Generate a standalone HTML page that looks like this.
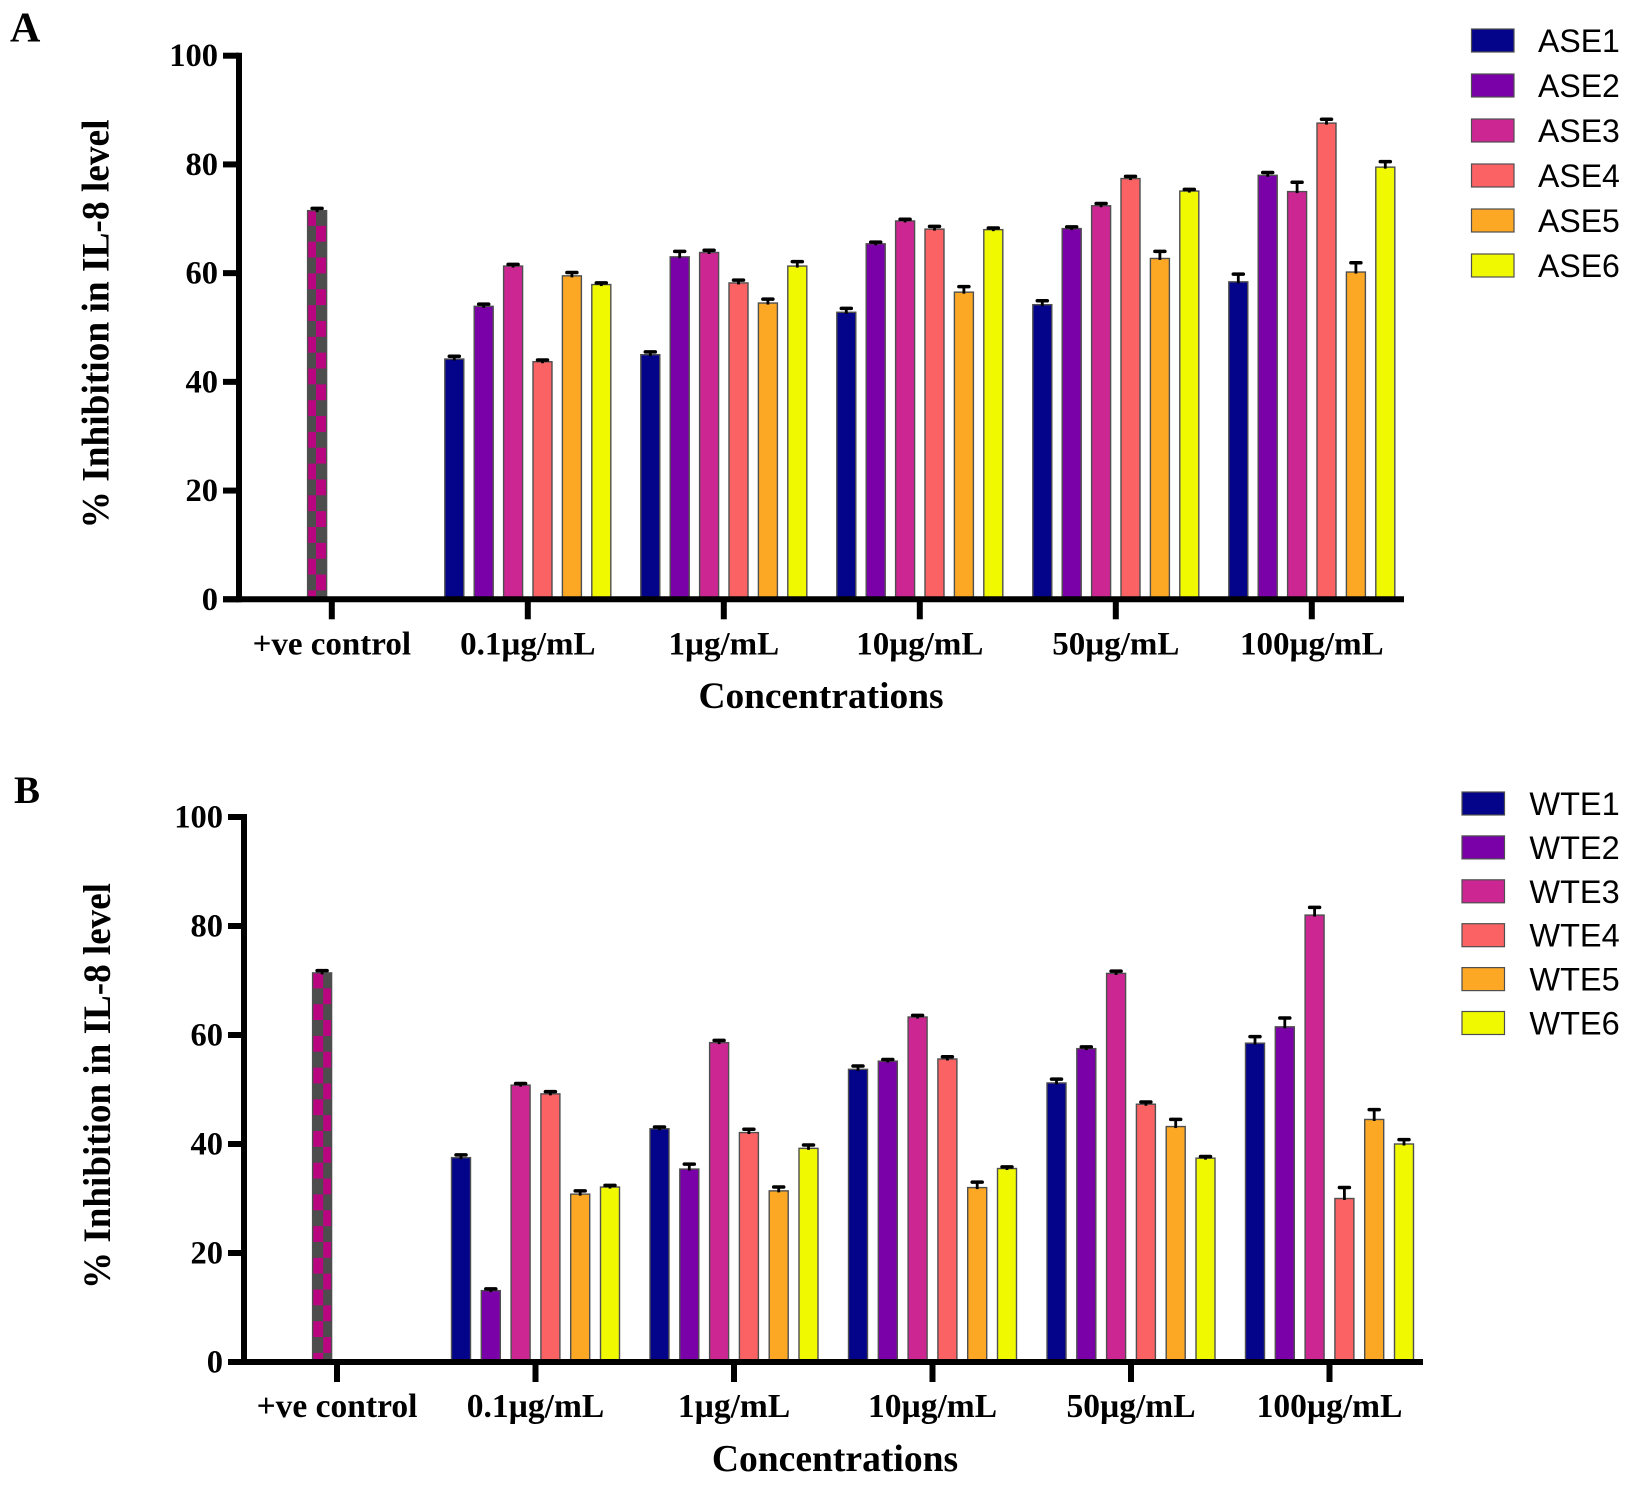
<!DOCTYPE html>
<html lang="en">
<head>
<meta charset="utf-8">
<title>% Inhibition in IL-8 level</title>
<style>
html,body{margin:0;padding:0;background:#fff;width:1631px;height:1492px;overflow:hidden}
svg{display:block}
.serif{font-family:"Liberation Serif",serif;font-weight:bold;fill:#000}
.sans{font-family:"Liberation Sans",sans-serif;fill:#000}
</style>
</head>
<body>
<svg id="chart" xmlns="http://www.w3.org/2000/svg" width="1631" height="1492" viewBox="0 0 1631 1492">
  <defs>
    <pattern id="checkA" patternUnits="userSpaceOnUse" x="307.5" y="210" width="20" height="31.7">
      <rect width="20" height="31.7" fill="#4d4d4d"/>
      <rect x="0" y="0" width="8.5" height="15.85" fill="#b9057f"/>
      <rect x="8.5" y="15.85" width="11.5" height="15.85" fill="#b9057f"/>
    </pattern>
    <pattern id="checkB" patternUnits="userSpaceOnUse" x="313" y="972.5" width="20" height="31.7">
      <rect width="20" height="31.7" fill="#4d4d4d"/>
      <rect x="0" y="0" width="10.2" height="15.85" fill="#b9057f"/>
      <rect x="10.2" y="15.85" width="9.8" height="15.85" fill="#b9057f"/>
    </pattern>
  </defs>
  <text class="serif" x="10" y="41.5" font-size="42">A</text>
  <text class="serif" x="14" y="803" font-size="39">B</text>
  <text class="serif" font-size="39" text-anchor="middle" transform="translate(108.5 324) rotate(-90)" textLength="409" lengthAdjust="spacingAndGlyphs">% Inhibition in IL-8 level</text>
  <text class="serif" font-size="39" text-anchor="middle" transform="translate(110 1086) rotate(-90)" textLength="406" lengthAdjust="spacingAndGlyphs">% Inhibition in IL-8 level</text>
  <text class="serif" font-size="37.4" text-anchor="middle" x="821" y="708">Concentrations</text>
  <text class="serif" font-size="37.6" text-anchor="middle" x="835" y="1471">Concentrations</text>
  <g id="panelA"></g>
  <g id="panelB"></g>
</svg>
<script>
// ---- data ----
const categories = ['+ve control', '0.1µg/mL', '1µg/mL', '10µg/mL', '50µg/mL', '100µg/mL'];
const yTicks = [0, 20, 40, 60, 80, 100];
const seriesColors = ['#04048a', '#7a00a8', '#cc2693', '#fb6264', '#fda824', '#f0f900'];

const aseNames = ['ASE1', 'ASE2', 'ASE3', 'ASE4', 'ASE5', 'ASE6'];
const aseControl = 71.5;
const aseControlErr = 0.3;
const ase1 = [44.2, 45.0, 52.8, 54.2, 58.4];
const ase2 = [53.9, 63.0, 65.4, 68.2, 78.0];
const ase3 = [61.3, 63.8, 69.6, 72.4, 75.0];
const ase4 = [43.7, 58.2, 68.1, 77.4, 87.6];
const ase5 = [59.5, 54.5, 56.5, 62.7, 60.2];
const ase6 = [57.9, 61.3, 68.0, 75.1, 79.5];
const ase1Err = [0.4, 0.4, 0.6, 0.6, 1.3];
const ase2Err = [0.3, 0.9, 0.2, 0.2, 0.4];
const ase3Err = [0.2, 0.3, 0.2, 0.3, 1.6];
const ase4Err = [0.2, 0.4, 0.4, 0.3, 0.6];
const ase5Err = [0.5, 0.6, 0.9, 1.2, 1.6];
const ase6Err = [0.2, 0.7, 0.2, 0.2, 0.9];

const wteNames = ['WTE1', 'WTE2', 'WTE3', 'WTE4', 'WTE5', 'WTE6'];
const wteControl = 71.4;
const wteControlErr = 0.3;
const wte1 = [37.5, 42.8, 53.7, 51.2, 58.5];
const wte2 = [13.1, 35.4, 55.2, 57.5, 61.5];
const wte3 = [50.8, 58.6, 63.3, 71.3, 82.0];
const wte4 = [49.2, 42.1, 55.6, 47.3, 30.0];
const wte5 = [30.8, 31.4, 32.0, 43.2, 44.5];
const wte6 = [32.1, 39.2, 35.5, 37.4, 40.0];
const wte1Err = [0.4, 0.2, 0.5, 0.6, 1.1];
const wte2Err = [0.2, 0.8, 0.2, 0.2, 1.5];
const wte3Err = [0.2, 0.3, 0.2, 0.3, 1.3];
const wte4Err = [0.3, 0.5, 0.3, 0.3, 1.9];
const wte5Err = [0.5, 0.6, 0.9, 1.2, 1.7];
const wte6Err = [0.2, 0.5, 0.2, 0.2, 0.7];

// ---- drawing ----
const NS = 'http://www.w3.org/2000/svg';
function svgEl(parent, tag, props) {
  const el = document.createElementNS(NS, tag);
  for (const k in props) el.setAttribute(k, props[k]);
  parent.appendChild(el);
  return el;
}

function drawPanel(p) {
  const g = document.getElementById(p.id);
  const yScale = v => p.y0 + (p.y100 - p.y0) * v / 100;
  const xTick = i => p.firstTick + p.tickStep * i;
  const slot = s => (s - 2.5) * p.pitch;
  const barW = 19;
  const axisW = 6;

  function drawBar(cx, v, err, fill, name) {
    const top = yScale(v);
    const bar = svgEl(g, 'rect', {x: cx - barW / 2, y: top, width: barW, height: p.y0 - top, fill: fill, stroke: '#4f4f4f', 'stroke-width': 1.4});
    
    
    const errTop = yScale(v + err);
    const stem = svgEl(g, 'line', {x1: cx, x2: cx, y1: top + 1.5, y2: errTop, stroke: '#000', 'stroke-width': 2.8});
    
    
    const cap = svgEl(g, 'line', {x1: cx - 5, x2: cx + 5, y1: errTop - 0.6, y2: errTop - 0.6, stroke: '#000', 'stroke-width': 3.5, 'stroke-linecap': 'round'});
    
    
  }

  // control bar sits in the third slot of the first category
  drawBar(xTick(0) + slot(2), p.control, p.controlErr, 'url(#' + p.check + ')', 'control-' + p.id);

  p.series.forEach((vals, s) => {
    vals.forEach((v, c) => {
      drawBar(xTick(c + 1) + slot(s), v, p.errors[s][c], seriesColors[s], p.names[s] + '-' + categories[c + 1]);
    });
  });

  // axes
  const yAxis = svgEl(g, 'line', {x1: p.xAxis, x2: p.xAxis, y1: p.y100 - axisW / 2, y2: p.y0 + axisW / 2, stroke: '#000', 'stroke-width': axisW});
  
  
  const xAxis = svgEl(g, 'line', {x1: p.xAxis - 16, x2: p.xEnd, y1: p.y0, y2: p.y0, stroke: '#000', 'stroke-width': axisW});
  
  

  yTicks.forEach(t => {
    const y = yScale(t);
    const tick = svgEl(g, 'line', {x1: p.xAxis - 16, x2: p.xAxis, y1: y, y2: y, stroke: '#000', 'stroke-width': axisW});
    
    
    const lab = svgEl(g, 'text', {x: p.xAxis - 21, y: y + 10.5, 'text-anchor': 'end', 'font-size': 32.5, class: 'serif'});
    lab.textContent = t;
    
    
  });

  categories.forEach((c, i) => {
    const x = xTick(i);
    const tick = svgEl(g, 'line', {x1: x, x2: x, y1: p.y0, y2: p.y0 + 20, stroke: '#000', 'stroke-width': axisW});
    
    
    const lab = svgEl(g, 'text', {x: x, y: p.labelY, 'text-anchor': 'middle', 'font-size': p.labelSize, class: 'serif'});
    lab.textContent = c;
    
    
  });

  // legend
  p.names.forEach((n, s) => {
    const ly = p.legY + p.legStep * s;
    const sw = svgEl(g, 'rect', {x: p.legX, y: ly, width: 42.5, height: 23, fill: seriesColors[s], stroke: '#4f4f4f', 'stroke-width': 1.2});
    
    
    const t = svgEl(g, 'text', {x: p.legTextX, y: ly + 23, 'font-size': p.legSize, class: 'sans'});
    t.textContent = n;
    
    
  });
}

drawPanel({
  id: 'panelA', check: 'checkA', names: aseNames,
  control: aseControl, controlErr: aseControlErr,
  series: [ase1, ase2, ase3, ase4, ase5, ase6],
  errors: [ase1Err, ase2Err, ase3Err, ase4Err, ase5Err, ase6Err],
  y0: 599.3, y100: 55.7, xAxis: 239, xEnd: 1404,
  firstTick: 331.8, tickStep: 196, pitch: 29.4,
  labelY: 654.5, labelSize: 33,
  legX: 1471.5, legY: 29, legStep: 45, legTextX: 1538, legSize: 32
});
drawPanel({
  id: 'panelB', check: 'checkB', names: wteNames,
  control: wteControl, controlErr: wteControlErr,
  series: [wte1, wte2, wte3, wte4, wte5, wte6],
  errors: [wte1Err, wte2Err, wte3Err, wte4Err, wte5Err, wte6Err],
  y0: 1362, y100: 817, xAxis: 244, xEnd: 1423,
  firstTick: 337, tickStep: 198.5, pitch: 29.8,
  labelY: 1417, labelSize: 33.5,
  legX: 1462, legY: 792, legStep: 43.9, legTextX: 1529.4, legSize: 32.5
});
</script>
</body>
</html>
